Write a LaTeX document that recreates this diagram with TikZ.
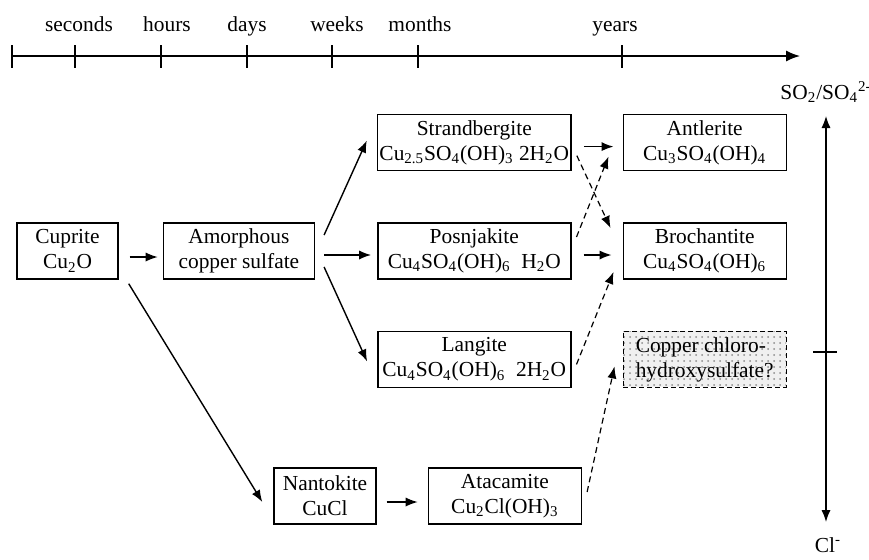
\documentclass[tikz,border=0pt]{standalone}
\usepackage{fontspec}
\setmainfont{Liberation Serif}
\usetikzlibrary{arrows.meta,positioning,patterns}

\begin{document}
\begin{tikzpicture}[x=0.5pt,y=-0.5pt,
    >={Latex[length=6pt,width=4.6pt]},
    every node/.style={font=\fontsize{10.7}{12.5}\selectfont},
    mineral/.style={draw,line width=0.7pt,align=center,minimum height=28pt,inner sep=1pt},
    maybe/.style={mineral,dashed,dash pattern=on 2.5pt off 1.5pt,preaction={fill=black!6},
      pattern=dots,pattern color=black!45,align=left},
    flow/.style={->,line width=0.7pt},
    slow/.style={->,line width=0.6pt,dash pattern=on 3pt off 2pt}]
  \useasboundingbox (0,0) rectangle (869,559);

  \coordinate (t0) at (12,56);
  \coordinate (t1) at (800,56);
  \draw[flow,-{Latex[length=7pt,width=5.5pt]}] (t0) -- (t1);
  \foreach \t in {12,75,161,247,332,418,622}
    \draw[line width=0.6pt] (\t,45) -- (\t,68);
  \node[anchor=base] (sec) at (79,31) {seconds};
  \node[anchor=base] (hrs) at (167,31) {hours};
  \node[anchor=base] (dys) at (247,31) {days};
  \node[anchor=base] (wks) at (337,31) {weeks};
  \node[anchor=base] (mos) at (420,31) {months};
  \node[anchor=base] (yrs) at (615,31) {years};

  \node[mineral,minimum width=50.5pt] (cu) at (67.5,251) {Cuprite\\Cu\textsubscript{2}O};
  \node[mineral,minimum width=75.5pt,right=22pt of cu] (am) {Amorphous\\copper sulfate};
  \node[mineral,minimum width=96.5pt,right=31pt of am] (po)
    {Posnjakite\\Cu\textsubscript{4}SO\textsubscript{4}(OH)\textsubscript{6}\ \ H\textsubscript{2}O};
  \node[mineral,minimum width=96.5pt,above=25.5pt of po] (st)
    {Strandbergite\\Cu\textsubscript{2.5}SO\textsubscript{4}(OH)\textsubscript{3} 2H\textsubscript{2}O};
  \node[mineral,minimum width=96.5pt,below=25.5pt of po] (la)
    {Langite\\Cu\textsubscript{4}SO\textsubscript{4}(OH)\textsubscript{6}\ \ 2H\textsubscript{2}O};
  \node[mineral,minimum width=81.5pt,right=25.5pt of po] (br)
    {Brochantite\\Cu\textsubscript{4}SO\textsubscript{4}(OH)\textsubscript{6}};
  \node[mineral,minimum width=81.5pt,above=25.5pt of br] (an)
    {Antlerite\\Cu\textsubscript{3}SO\textsubscript{4}(OH)\textsubscript{4}};
  \node[maybe,minimum width=81.5pt,below=25.5pt of br] (cc)
    {Copper chloro-\\hydroxysulfate?};
  \node[mineral,minimum width=51pt] (na) at (325,496) {Nantokite\\CuCl};
  \node[mineral,minimum width=76.5pt,right=25.5pt of na] (at)
    {Atacamite\\Cu\textsubscript{2}Cl(OH)\textsubscript{3}};

  \draw[flow] ([shift={(11,6)}]cu.east) -- ([shift={(-5,6)}]am.west);
  \draw[flow] ([shift={(9,-16)}]am.east) -- ([shift={(-10,-2)}]st.west);
  \draw[flow] ([shift={(9,4)}]am.east) -- ([shift={(-6,4)}]po.west);
  \draw[flow] ([shift={(9,16)}]am.east) -- ([shift={(-10,2)}]la.west);
  \draw[flow] ([shift={(10,4)}]cu.south east) -- ([shift={(-11,6)}]na.west);
  \draw[flow] ([shift={(10,6)}]na.east) -- ([shift={(-10,6)}]at.west);
  \draw[flow] ([shift={(12,4)}]st.east) -- ([shift={(-9,4)}]an.west);
  \draw[flow] ([shift={(12,4)}]po.east) -- ([shift={(-11,4)}]br.west);
  \draw[slow] ([shift={(5,13)}]st.east) -- ([shift={(-12,-23)}]br.west);
  \draw[slow] ([shift={(5,-14)}]po.east) -- ([shift={(-14,14)}]an.west);
  \draw[slow] ([shift={(5,5)}]la.east) -- ([shift={(-9,21)}]br.west);
  \draw[slow] ([shift={(5,-4)}]at.east) -- ([shift={(-8,7)}]cc.west);

  \node (sulf) at (826,92) {SO\textsubscript{2}/SO\textsubscript{4}\textsuperscript{2-}};
  \node (chl) at (828,545) {Cl\textsuperscript{-}};
  \coordinate (top) at (826,116);
  \coordinate (bot) at (826,522);
  \draw[<->,line width=0.7pt] (top) -- (bot);
  \draw[line width=0.6pt] (813,352) -- (837,352);
\end{tikzpicture}
\end{document}
